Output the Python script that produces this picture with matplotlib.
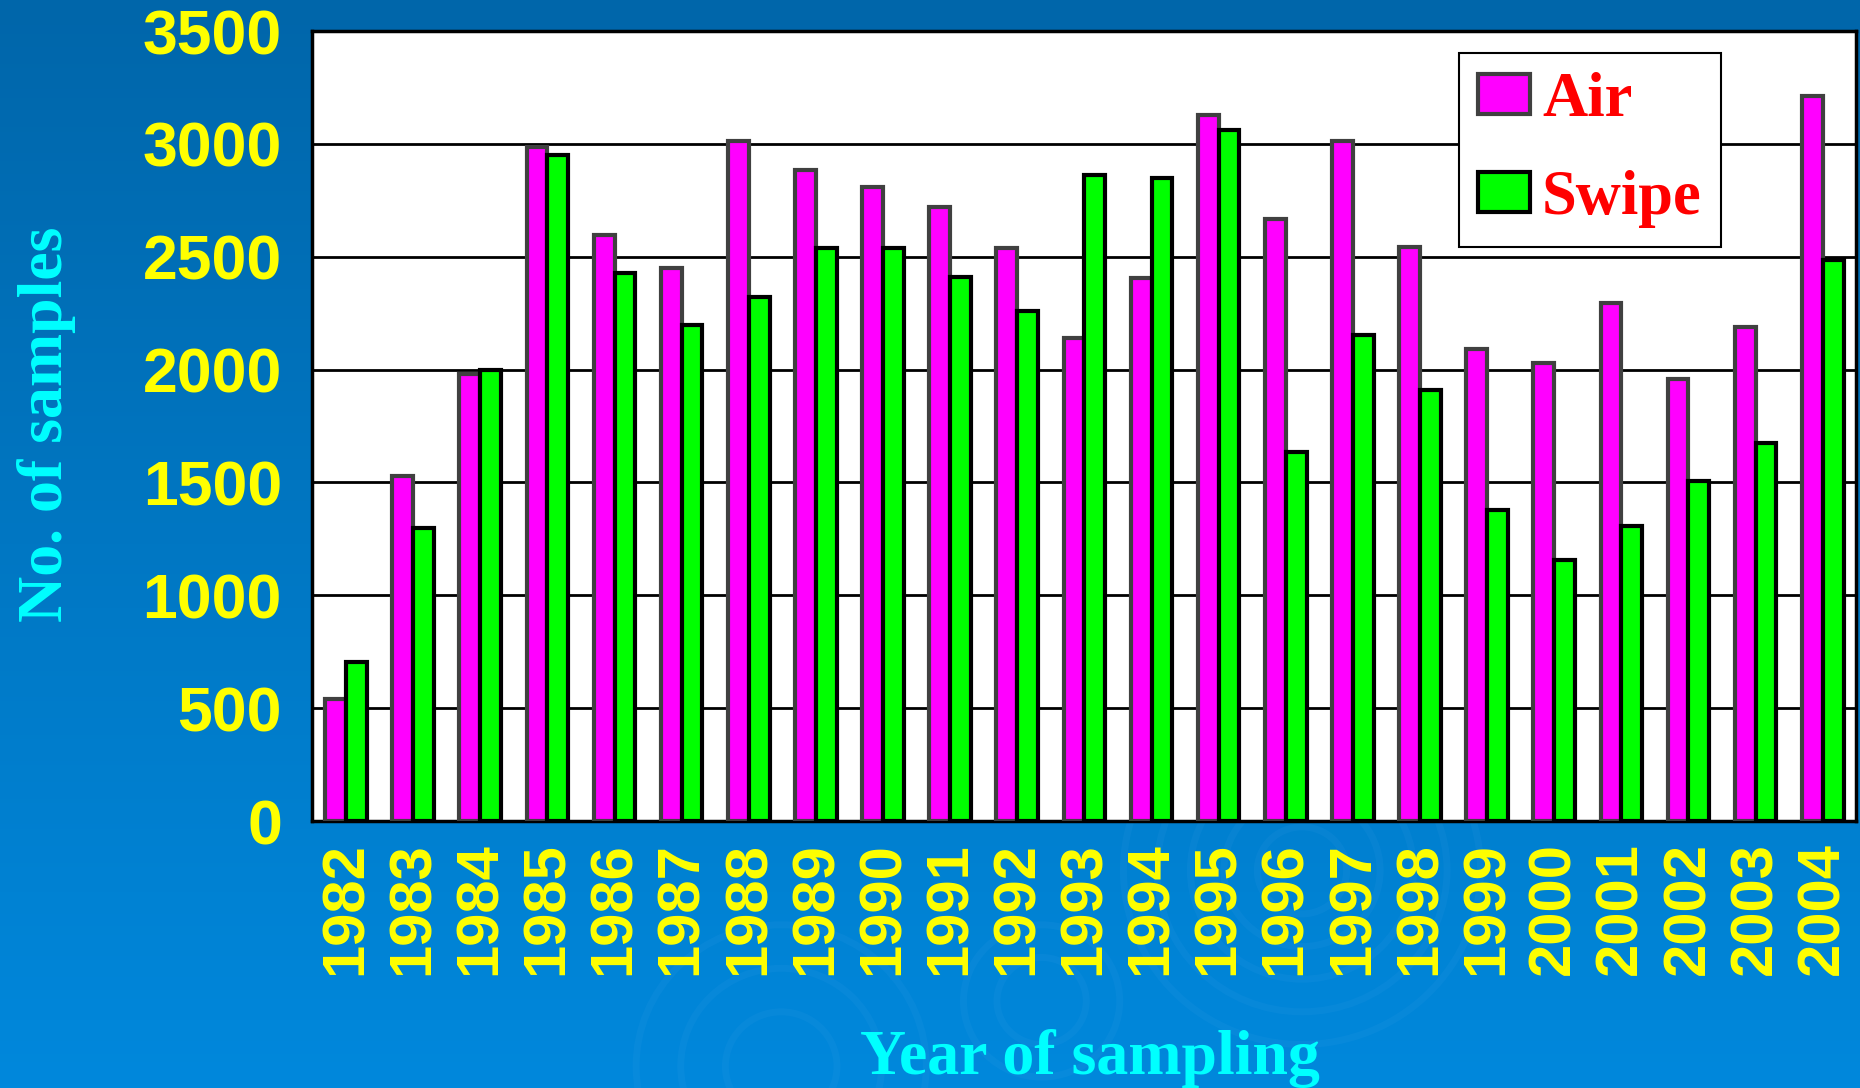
import numpy as np
import matplotlib
matplotlib.use("Agg")
from matplotlib import pyplot as plt
from matplotlib.patches import Ellipse

# values
years = [str(y) for y in range(1982, 2005)]
air = [540, 1527, 1982, 2987, 2597, 2451, 3013, 2885, 2810, 2721, 2540,
       2142, 2407, 3128, 2668, 3013, 2544, 2093, 2031, 2297, 1960, 2190, 3213]
swipe = [703, 1297, 2000, 2951, 2430, 2199, 2323, 2540, 2540, 2412, 2261,
         2863, 2850, 3062, 1633, 2155, 1911, 1380, 1155, 1305, 1505, 1673, 2487]
yticks = [0, 500, 1000, 1500, 2000, 2500, 3000, 3500]

fig = plt.figure(figsize=(18.6, 10.88), dpi=100)

# blue gradient background with a few faint ripples
bg = fig.add_axes([0, 0, 1, 1], zorder=-10)
grad = np.linspace(0, 1, 256).reshape(-1, 1)
top_c = np.array([0, 102, 170]) / 255
bot_c = np.array([0, 136, 220]) / 255
img = top_c + grad[:, :, None] * (bot_c - top_c)
bg.imshow(img, aspect='auto', extent=[0, 1, 0, 1], origin='upper')
for cx, cy, radii in [(0.70, 0.20, [0.04, 0.07, 0.10, 0.13, 0.16]),
                      (0.42, 0.02, [0.05, 0.09, 0.13]),
                      (0.56, 0.08, [0.04, 0.07])]:
    for r in radii:
        bg.add_patch(Ellipse((cx, cy), r * 1.2, r * 2.0, fill=False,
                             edgecolor='#3aa0e8', linewidth=5, alpha=0.12))
bg.set_xlim(0, 1)
bg.set_ylim(0, 1)
bg.axis('off')

ax = fig.add_axes([0.168, 0.2454, 0.830, 0.7261])
ax.set_facecolor('white')

x = np.arange(len(years))
w = 0.31
ax.bar(x - w / 2, air, w, color='#FF00FF', edgecolor='#404040', linewidth=3.0,
       label='Air', zorder=3)
ax.bar(x + w / 2, swipe, w, color='#00FF00', edgecolor='black', linewidth=3.0,
       label='Swipe', zorder=3)

ax.set_xlim(-0.5, len(years) - 0.5)
ax.set_ylim(0, 3500)
ax.set_yticks(yticks)
ax.yaxis.grid(True, color='black', linewidth=2.0, zorder=0)
ax.set_axisbelow(True)
ax.tick_params(length=0)

ax.set_yticklabels([str(t) for t in yticks], color='#FFFF00', fontsize=45,
                   fontweight='bold', family='Liberation Sans')
ax.tick_params(axis='y', pad=22)
ax.set_xticks(x)
ax.set_xticklabels(years, rotation=90, color='#FFFF00', fontsize=43,
                   fontweight='bold', family='Liberation Sans')
ax.tick_params(axis='x', pad=15)

for s in ax.spines.values():
    s.set_color('black')
    s.set_linewidth(2.5)

fig.text(0.025, 0.61, 'No. of samples', rotation=90, color='#00FFFF',
         fontsize=46, fontweight='bold', family='Liberation Serif',
         ha='center', va='center')
fig.text(0.586, 0.027, 'Year of sampling', color='#00FFFF',
         fontsize=46, fontweight='bold', family='Liberation Serif',
         ha='center', va='center')

leg = ax.legend(loc='upper left', bbox_to_anchor=(0.7844, 0.9513),
                bbox_transform=fig.transFigure, borderaxespad=0,
                fancybox=False, framealpha=1, edgecolor='black',
                handlelength=0.83, handleheight=0.6, handletextpad=0.2,
                labelspacing=0.65, borderpad=0.3,
                prop={'family': 'Liberation Serif', 'weight': 'bold', 'size': 45})
leg.get_frame().set_linewidth(1.5)
for t in leg.get_texts():
    t.set_color('#FF0000')

fig.savefig('out.png', dpi=100)
